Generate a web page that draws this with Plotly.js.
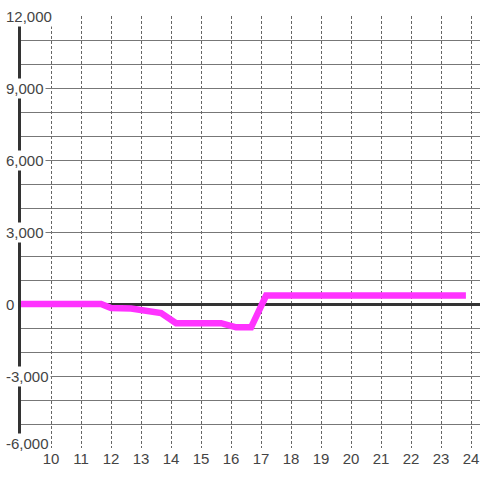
<!DOCTYPE html>
<html>
<head>
<meta charset="utf-8">
<script src="https://cdn.plot.ly/plotly-3.0.1.min.js"></script>
<style>html,body{margin:0;padding:0;background:#fff;}#chart{width:480px;height:480px;}</style>
</head>
<body>
<div id="chart"></div>
<script>
// Hour of day (decimal) and value
const hours = [9, 11.67, 12.0, 12.67, 13.67, 14.17, 15.67, 16.17, 16.67, 17.17, 23.83];
const values = [0, 0, -170, -190, -380, -800, -800, -970, -970, 350, 350];

const xTickVals = [10, 11, 12, 13, 14, 15, 16, 17, 18, 19, 20, 21, 22, 23, 24];
const yTickVals = [12000, 9000, 6000, 3000, 0, -3000, -6000];
const yTickText = ['12,000', '9,000', '6,000', '3,000', '0', '-3,000', '-6,000'];

const fontFam = 'Liberation Sans, Arial, sans-serif';
const textCol = '#444';

const annotations = yTickVals.map((v, i) => ({
  xref: 'paper', yref: 'y',
  x: 0, xshift: -17, xanchor: 'left',
  y: v, yanchor: 'middle',
  yshift: (i === yTickVals.length - 1) ? 5 : 0,
  text: yTickText[i],
  showarrow: false,
  bgcolor: '#ffffff',
  borderpad: 1,
  font: {family: fontFam, size: 15, color: textCol}
}));

const trace = {
  x: hours, y: values,
  type: 'scatter', mode: 'lines',
  line: {color: '#ff33ff', width: 6.5},
  hoverinfo: 'skip'
};

const layout = {
  width: 480, height: 480,
  margin: {l: 21, r: 0, t: 16, b: 32},
  paper_bgcolor: '#ffffff', plot_bgcolor: '#ffffff',
  showlegend: false,
  font: {family: fontFam, size: 15, color: textCol},
  xaxis: {
    range: [9, 24.3],
    tickvals: xTickVals,
    ticktext: xTickVals.map(String),
    showgrid: true, gridcolor: '#666', gridwidth: 1, griddash: '3px,2px',
    zeroline: false, showline: false, ticks: '',
    tickfont: {family: fontFam, size: 15, color: textCol},
    fixedrange: true
  },
  yaxis: {
    range: [-6000, 12000],
    tickvals: yTickVals,
    showticklabels: false,
    showgrid: true, gridcolor: '#777', gridwidth: 1,
    minor: {dtick: 1000, tick0: 0, showgrid: true, gridcolor: '#777', gridwidth: 1},
    zeroline: true, zerolinecolor: '#333', zerolinewidth: 3,
    showline: true, linecolor: '#333', linewidth: 3,
    layer: 'below traces',
    ticks: '',
    fixedrange: true
  },
  annotations: annotations
};

Plotly.newPlot('chart', [trace], layout, {staticPlot: true, displayModeBar: false});
</script>
</body>
</html>
